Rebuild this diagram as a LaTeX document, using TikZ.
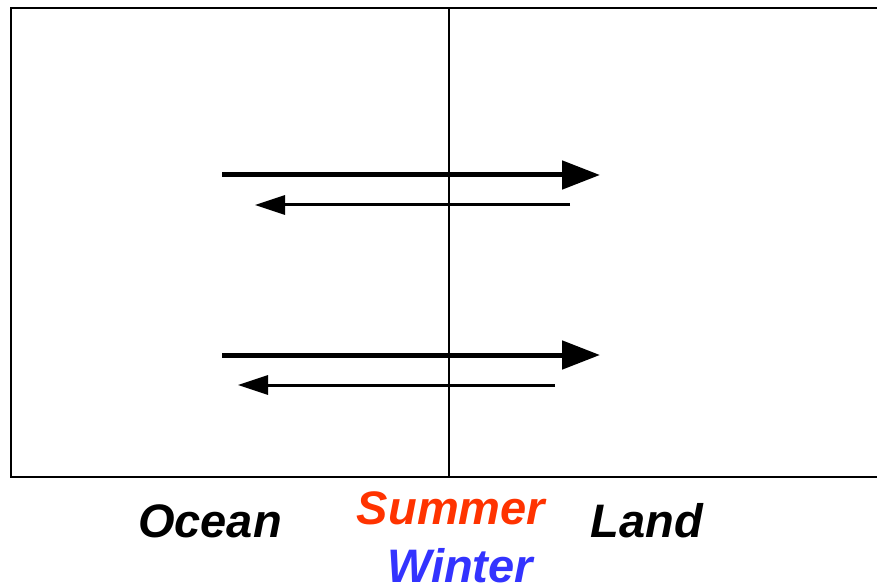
\documentclass[tikz,border=0pt]{standalone}
\usepackage{fontspec}
\setmainfont{Liberation Sans}
\usetikzlibrary{arrows.meta}
\definecolor{summercol}{HTML}{FF3300}
\definecolor{wintercol}{HTML}{3333FF}
\tikzset{
  bigarrow/.style={line width=5pt,-{Triangle[length=38pt,width=28pt]}},
  smallarrow/.style={line width=3pt,-{Triangle[length=30pt,width=19pt]}},
  lab/.style={anchor=base,inner sep=0pt,font=\fontsize{47}{50}\selectfont\bfseries\itshape}
}
\begin{document}
\begin{tikzpicture}[x=1pt,y=-1pt]
\useasboundingbox (0,0) rectangle (877,585);
\draw[line width=2pt] (877,8) -- (11,8) -- (11,477) -- (877,477);
\draw[line width=1.5pt] (449,8) -- (449,477);
\coordinate (a1s) at (222,175); \coordinate (a1e) at (600,175);
\coordinate (b1s) at (570,205); \coordinate (b1e) at (255,205);
\coordinate (a2s) at (222,355); \coordinate (a2e) at (600,355);
\coordinate (b2s) at (555,385); \coordinate (b2e) at (238,385);
\draw[bigarrow] (a1s) -- (a1e);
\draw[smallarrow] (b1s) -- (b1e);
\draw[bigarrow] (a2s) -- (a2e);
\draw[smallarrow] (b2s) -- (b2e);
\node[lab] (ocean) at (210,537) {Ocean};
\node[lab,text=summercol] (summer) at (451,524) {Summer};
\node[lab,text=wintercol] (winter) at (460,582) {Winter};
\node[lab] (land) at (647,537) {Land};
\end{tikzpicture}
\end{document}
